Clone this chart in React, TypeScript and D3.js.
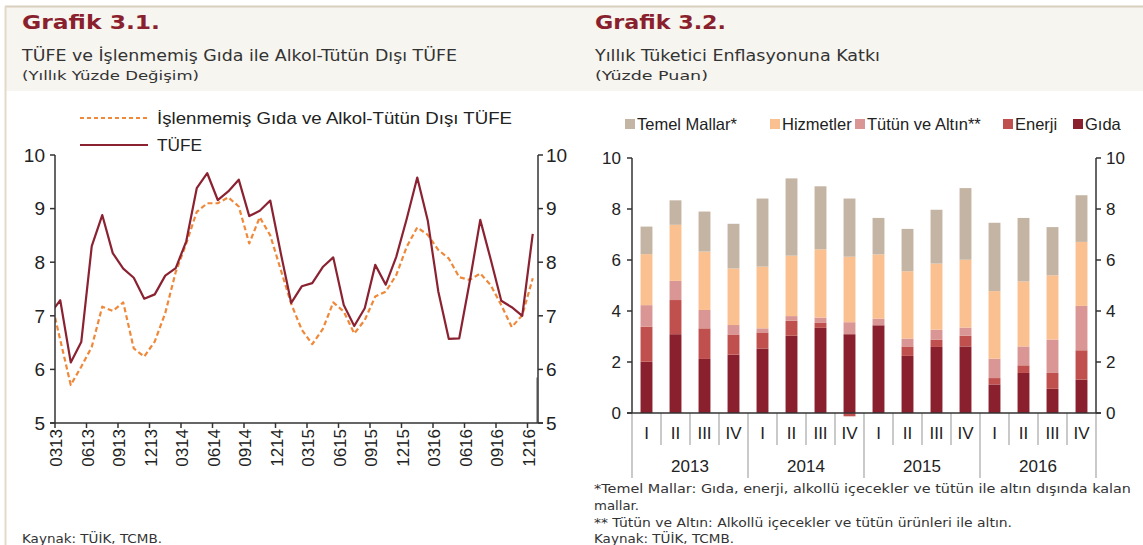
import React from 'react'
import * as d3 from 'd3'

// ---- Grafik 3.1 data (monthly, 0213 is only there so the line enters from the axis edge)
const months = ['0213', '0313', '0413', '0513', '0613', '0713', '0813', '0913', '1013', '1113', '1213',
  '0114', '0214', '0314', '0414', '0514', '0614', '0714', '0814', '0914', '1014', '1114', '1214',
  '0115', '0215', '0315', '0415', '0515', '0615', '0715', '0815', '0915', '1015', '1115', '1215',
  '0116', '0216', '0316', '0416', '0516', '0616', '0716', '0816', '0916', '1016', '1116', '1216']
const tufe = [7.03, 7.29, 6.13, 6.51, 8.30, 8.88, 8.17, 7.88, 7.71, 7.32, 7.40,
  7.75, 7.89, 8.39, 9.38, 9.66, 9.16, 9.32, 9.54, 8.86, 8.96, 9.15, 8.17,
  7.24, 7.55, 7.61, 7.91, 8.09, 7.20, 6.81, 7.14, 7.95, 7.58, 8.10, 8.81,
  9.58, 8.78, 7.46, 6.57, 6.58, 7.64, 8.79, 8.05, 7.28, 7.16, 7.00, 8.53]
const cekirdek = [7.40, 6.55, 5.71, 6.05, 6.42, 7.17, 7.09, 7.25, 6.39, 6.24, 6.52,
  7.05, 7.82, 8.35, 8.94, 9.10, 9.10, 9.21, 9.04, 8.35, 8.84, 8.50, 7.86,
  7.22, 6.74, 6.47, 6.75, 7.25, 7.08, 6.67, 6.92, 7.36, 7.45, 7.76, 8.29,
  8.65, 8.51, 8.23, 8.07, 7.72, 7.67, 7.79, 7.57, 7.20, 6.79, 7.01, 7.70]
const leftTicks = [5, 6, 7, 8, 9, 10]

// ---- Grafik 3.2 data (quarterly contributions, percentage points)
const years = ['2013', '2014', '2015', '2016']
const quarterNames = ['I', 'II', 'III', 'IV']
const gida = [2.01, 3.09, 2.12, 2.29, 2.53, 3.03, 3.34, 3.09, 3.44, 2.24, 2.59, 2.61, 1.12, 1.57, 0.95, 1.31]
const enerji = [1.37, 1.34, 1.20, 0.79, 0.63, 0.59, 0.21, -0.13, 0.0, 0.37, 0.29, 0.42, 0.25, 0.30, 0.62, 1.15]
const tutun = [0.85, 0.75, 0.72, 0.37, 0.16, 0.18, 0.19, 0.47, 0.26, 0.31, 0.39, 0.32, 0.76, 0.74, 1.31, 1.74]
const hizmetler = [2.00, 2.20, 2.29, 2.22, 2.42, 2.37, 2.68, 2.57, 2.52, 2.64, 2.59, 2.66, 2.65, 2.55, 2.52, 2.51]
const temel = [1.08, 0.96, 1.57, 1.75, 2.67, 3.03, 2.47, 2.28, 1.43, 1.66, 2.11, 2.81, 2.68, 2.49, 1.89, 1.83]
const rightTicks = [0, 2, 4, 6, 8, 10]

const seriesKeys = ['gida', 'enerji', 'tutun', 'hizmetler', 'temel']
const seriesColor: any = { gida: '#8a1f2d', enerji: '#c0504d', tutun: '#da9694', hizmetler: '#fac090', temel: '#c4b4a3' }
const legendItems = [
  { key: 'temel', label: 'Temel Mallar*', x: 625 },
  { key: 'hizmetler', label: 'Hizmetler', x: 770 },
  { key: 'tutun', label: 'Tütün ve Altın**', x: 855 },
  { key: 'enerji', label: 'Enerji', x: 1003 },
  { key: 'gida', label: 'Gıda', x: 1073 },
]

const TITLE_FONT = '"DejaVu Sans", sans-serif'
const AXIS_FONT = '"Liberation Sans", Arial, sans-serif'

export default function App() {
  // left chart scales
  const lx = d3.scaleLinear().domain([0.5, 46.5]).range([55, 538])
  const ly = d3.scaleLinear().domain([5, 10]).range([423, 155])
  const lineT = d3.line<number>().x((d, i) => lx(i)).y(d => ly(d))
  const quarterTicks = months.map((m, i) => ({ m, i })).filter(d => d.i > 0 && (d.i - 1) % 3 === 0)

  // right chart scales
  const quarters = years.flatMap(y => quarterNames.map(q => y + '-' + q))
  const rx = d3.scaleBand().domain(quarters).range([632, 1096]).paddingInner(0.59).paddingOuter(0.295)
  const ry = d3.scaleLinear().domain([0, 10]).range([413, 158])
  const table = quarters.map((q, i) => ({ q, gida: gida[i], enerji: enerji[i], tutun: tutun[i], hizmetler: hizmetler[i], temel: temel[i] }))
  const stacked = d3.stack<any>().keys(seriesKeys).offset(d3.stackOffsetDiverging)(table)
  const step = rx.step()
  const gap = (step - rx.bandwidth()) / 2

  return (
    <svg width={1143} height={545} style={{ position: 'absolute', left: 0, top: 0, background: '#fff' }}>
      <defs>
        <clipPath id="lclip"><rect x={55} y={140} width={483} height={290} /></clipPath>
      </defs>
      {/* header band */}
      <rect x={5} y={6} width={1138} height={85} fill="#f7f5f0" />
      <line x1={5} x2={1143} y1={6.5} y2={6.5} stroke="#d8cebd" strokeWidth={2} />
      <line x1={5.5} x2={5.5} y1={6} y2={545} stroke="#e3d9c9" strokeWidth={2} />

      <g fontFamily={TITLE_FONT}>
        <text x={22} y={29} fontSize={19} fontWeight="bold" fill="#8a1f2d" textLength={138} lengthAdjust="spacingAndGlyphs">Grafik 3.1.</text>
        <text x={22} y={61} fontSize={15.5} fill="#333" textLength={435} lengthAdjust="spacingAndGlyphs">TÜFE ve İşlenmemiş Gıda ile Alkol-Tütün Dışı TÜFE</text>
        <text x={22} y={80} fontSize={13} fill="#333" textLength={177} lengthAdjust="spacingAndGlyphs">(Yıllık Yüzde Değişim)</text>
        <text x={595} y={29} fontSize={19} fontWeight="bold" fill="#8a1f2d" textLength={131} lengthAdjust="spacingAndGlyphs">Grafik 3.2.</text>
        <text x={595} y={61} fontSize={15.5} fill="#333" textLength={285} lengthAdjust="spacingAndGlyphs">Yıllık Tüketici Enflasyonuna Katkı</text>
        <text x={595} y={80} fontSize={13} fill="#333" textLength={113} lengthAdjust="spacingAndGlyphs">(Yüzde Puan)</text>
        <text x={22} y={543} fontSize={12} fill="#333" textLength={140} lengthAdjust="spacingAndGlyphs">Kaynak: TÜİK, TCMB.</text>
        <text x={594} y={493} fontSize={12} fill="#333" textLength={537} lengthAdjust="spacingAndGlyphs">*Temel Mallar: Gıda, enerji, alkollü içecekler ve tütün ile altın dışında kalan</text>
        <text x={594} y={510} fontSize={12} fill="#333" textLength={45} lengthAdjust="spacingAndGlyphs">mallar.</text>
        <text x={594} y={527} fontSize={12} fill="#333" textLength={418} lengthAdjust="spacingAndGlyphs">** Tütün ve Altın: Alkollü içecekler ve tütün ürünleri ile altın.</text>
        <text x={594} y={543} fontSize={12} fill="#333" textLength={140} lengthAdjust="spacingAndGlyphs">Kaynak: TÜİK, TCMB.</text>
      </g>

      {/* ---- left chart ---- */}
      <g fontFamily={AXIS_FONT} fill="#222">
        <line x1={80} x2={148} y1={118} y2={118} stroke="#f0883a" strokeWidth={2} strokeDasharray="4,3" />
        <text x={157} y={124} fontSize={17} textLength={355} lengthAdjust="spacingAndGlyphs">İşlenmemiş Gıda ve Alkol-Tütün Dışı TÜFE</text>
        <line x1={80} x2={148} y1={145} y2={145} stroke="#8b2232" strokeWidth={2} />
        <text x={157} y={151} fontSize={17} textLength={45} lengthAdjust="spacingAndGlyphs">TÜFE</text>
      </g>
      <g clipPath="url(#lclip)" fill="none" strokeLinejoin="round">
        <path d={lineT(cekirdek) || ''} stroke="#f0883a" strokeWidth={2.2} strokeDasharray="5,3" />
        <path d={lineT(tufe) || ''} stroke="#8b2232" strokeWidth={2.2} />
      </g>
      <line x1={537} x2={537} y1={ly(5.85)} y2={ly(5)} stroke="#aaa" strokeWidth={2} />
      <g stroke="#333" strokeWidth={1.5}>
        <line x1={55} x2={55} y1={ly(10)} y2={ly(5)} />
        <line x1={538} x2={538} y1={ly(10)} y2={ly(5)} />
        <line x1={50} x2={543} y1={ly(5)} y2={ly(5)} />
        {leftTicks.map(t => (
          <g key={t}>
            <line x1={50} x2={55} y1={ly(t)} y2={ly(t)} />
            <line x1={538} x2={543} y1={ly(t)} y2={ly(t)} />
          </g>
        ))}
        {quarterTicks.map(d => (
          <line key={d.m} x1={lx(d.i - 0.5)} x2={lx(d.i - 0.5)} y1={ly(5)} y2={ly(5) + 5} />
        ))}
      </g>
      <g fontFamily={AXIS_FONT} fontSize={19} fill="#222">
        {leftTicks.map(t => (
          <g key={t}>
            <text x={45} y={ly(t)} dy="0.36em" textAnchor="end">{t}</text>
            <text x={546} y={ly(t)} dy="0.36em">{t}</text>
          </g>
        ))}
        {quarterTicks.map(d => (
          <text key={d.m} transform={`translate(${lx(d.i - 0.5) + 1},${ly(5) + 6}) rotate(-90)`} dy="0.36em" textAnchor="end" fontSize={17}>{d.m}</text>
        ))}
      </g>

      {/* ---- right chart ---- */}
      <g fontFamily={AXIS_FONT} fontSize={16.5} fill="#222">
        {legendItems.map(l => (
          <g key={l.key}>
            <rect x={l.x} y={119} width={10} height={10} fill={seriesColor[l.key]} />
            <text x={l.x + 12} y={130}>{l.label}</text>
          </g>
        ))}
      </g>
      <g>
        {stacked.map(s => (
          <g key={s.key} fill={seriesColor[s.key]}>
            {s.map((d: any) => (
              <rect key={d.data.q} x={rx(d.data.q)} width={rx.bandwidth()}
                y={ry(Math.max(d[0], d[1]))} height={Math.abs(ry(d[0]) - ry(d[1]))} />
            ))}
          </g>
        ))}
      </g>
      <g stroke="#a6a6a6" strokeWidth={1.2}>
        {quarters.map((q, i) => {
          const x0 = (rx(q) as number) - gap
          return <line key={q} x1={x0} x2={x0} y1={ry(0)} y2={ry(0) + (i % 4 === 0 ? 65 : 32)} />
        })}
        <line x1={1096} x2={1096} y1={ry(0)} y2={ry(0) + 65} />
      </g>
      <g stroke="#333" strokeWidth={1.5}>
        <line x1={632} x2={632} y1={ry(10)} y2={ry(0)} />
        <line x1={1096} x2={1096} y1={ry(10)} y2={ry(0)} />
        <line x1={627} x2={1101} y1={ry(0)} y2={ry(0)} />
        {rightTicks.map(t => (
          <g key={t}>
            <line x1={627} x2={632} y1={ry(t)} y2={ry(t)} />
            <line x1={1096} x2={1101} y1={ry(t)} y2={ry(t)} />
          </g>
        ))}
      </g>
      <g fontFamily={AXIS_FONT} fontSize={17} fill="#222">
        {rightTicks.map(t => (
          <g key={t}>
            <text x={621} y={ry(t)} dy="0.36em" textAnchor="end">{t}</text>
            <text x={1106} y={ry(t)} dy="0.36em">{t}</text>
          </g>
        ))}
        {quarters.map((q, i) => (
          <text key={q} x={(rx(q) as number) + rx.bandwidth() / 2} y={ry(0) + 26} textAnchor="middle">{quarterNames[i % 4]}</text>
        ))}
        {years.map((y, i) => (
          <text key={y} x={632 + step * (i * 4 + 2)} y={ry(0) + 59} textAnchor="middle">{y}</text>
        ))}
      </g>
    </svg>
  )
}
